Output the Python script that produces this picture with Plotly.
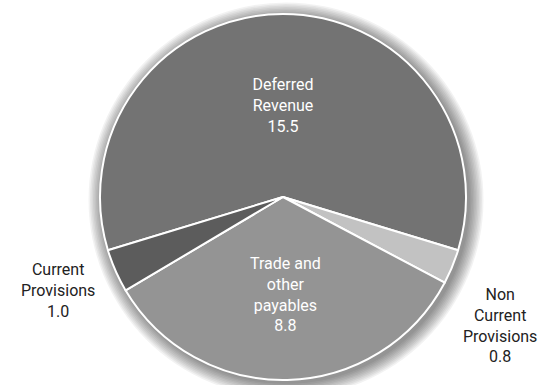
import plotly.graph_objects as go

categories = ["Deferred Revenue", "Non Current Provisions", "Trade and other payables", "Current Provisions"]
display_labels = ["Deferred<br>Revenue", "Non<br>Current<br>Provisions", "Trade and<br>other<br>payables", "Current<br>Provisions"]
values = [15.5, 0.8, 8.8, 1.0]
colors = ["#737373", "#c2c2c2", "#949494", "#5c5c5c"]
text_positions = ["inside", "none", "inside", "none"]

W, H = 547, 385
CX, CY, R = 283, 197, 183

total = sum(values)
rotation = -(values[0] / total * 360) / 2

fig = go.Figure(go.Pie(
    labels=categories,
    values=values,
    text=display_labels,
    texttemplate="%{text}<br>%{value:.1f}",
    textposition=text_positions,
    insidetextorientation="horizontal",
    textfont=dict(family="Roboto", size=16, color="white"),
    marker=dict(colors=colors, line=dict(color="white", width=2)),
    sort=False,
    direction="clockwise",
    rotation=rotation,
    showlegend=False,
    domain=dict(x=[(CX - R) / W, (CX + R) / W], y=[1 - (CY + R) / H, 1 - (CY - R) / H]),
))

# soft drop shadow behind the pie
shapes = []
for i in range(10):
    rr = R + 1 + i * 1.5
    ox, oy = CX + 3, CY + 3
    shapes.append(dict(
        type="circle", xref="paper", yref="paper", layer="below",
        x0=(ox - rr) / W, x1=(ox + rr) / W,
        y0=1 - (oy + rr) / H, y1=1 - (oy - rr) / H,
        fillcolor="rgba(0,0,0,0.05)", line=dict(width=0),
    ))

# outside labels for the two small slices
outside = {1: (500, 325), 3: (58, 290)}
annotations = []
for idx, (px, py) in outside.items():
    annotations.append(dict(
        text=f"{display_labels[idx]}<br>{values[idx]:.1f}",
        xref="paper", yref="paper", x=px / W, y=1 - py / H,
        xanchor="center", yanchor="middle", showarrow=False,
        font=dict(family="Roboto", size=16, color="#222222"),
    ))

fig.update_layout(
    width=W, height=H,
    margin=dict(l=0, r=0, t=0, b=0),
    paper_bgcolor="white",
    plot_bgcolor="white",
    font=dict(family="Roboto"),
    shapes=shapes,
    annotations=annotations,
)

fig.write_html(
    "out.html",
    config={"displayModeBar": False},
    post_script="document.body.style.margin='0';document.body.style.overflow='hidden';",
)
